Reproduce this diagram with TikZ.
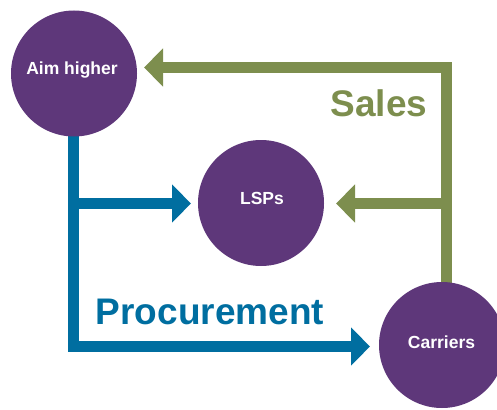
\documentclass[tikz,border=0pt]{standalone}
\usepackage{fontspec}
\setmainfont{Liberation Sans}
\usetikzlibrary{arrows.meta}
\definecolor{hubpurple}{RGB}{94,55,122}
\definecolor{salesgreen}{RGB}{125,142,78}
\definecolor{procblue}{RGB}{0,110,160}
\tikzset{
  hub/.style={circle, fill=hubpurple, draw=none, minimum size=126pt, inner sep=0pt},
  hublabel/.style={text=white, font=\bfseries\fontsize{17.5}{21}\selectfont, anchor=base, inner sep=0pt},
  flowline/.style={line width=11pt, line join=miter, line cap=butt, -{Triangle[length=19pt,width=37pt]}},
  plainflow/.style={line width=11pt, line join=miter, line cap=butt},
  biglabel/.style={font=\bfseries\fontsize{37}{44}\selectfont, anchor=base, inner sep=0pt}
}
\begin{document}
\begin{tikzpicture}[x=1pt,y=-1pt]
\useasboundingbox (0,0) rectangle (497,409);
% junction coordinates
\coordinate (gtop) at (446,67.5);
\coordinate (gmid) at (446,203.5);
\coordinate (gbot) at (446,290);
\coordinate (btop) at (73.5,130);
\coordinate (bmid) at (73.5,203.5);
\coordinate (bbot) at (73.5,346.5);
\coordinate (tipaim) at (144,67.5);
\coordinate (tiplsp) at (336,203.5);
\coordinate (tiplspb) at (191,203.5);
\coordinate (tipcar) at (370,346.5);
% connectors
\draw[flowline, salesgreen] (gbot) -- (gtop) -- (tipaim);
\draw[flowline, salesgreen] (gmid) -- (tiplsp);
\draw[flowline, procblue] (btop) -- (bbot) -- (tipcar);
\draw[flowline, procblue] (bmid) -- (tiplspb);
% hubs
\node[hub] (aim) at (74,73.5) {};
\node[hub] (lsp) at (261,203) {};
\node[hub] (car) at (442,345) {};
\node[hublabel] (aimt) at (72,75) {Aim higher};
\node[hublabel] (lspt) at (262,204) {LSPs};
\node[hublabel] (cart) at (441.5,348) {Carriers};
% labels
\node[biglabel, text=salesgreen] (sales) at (379,117) {Sales};
\node[biglabel, text=procblue] (proc) at (210,324) {Procurement};
\end{tikzpicture}
\end{document}
